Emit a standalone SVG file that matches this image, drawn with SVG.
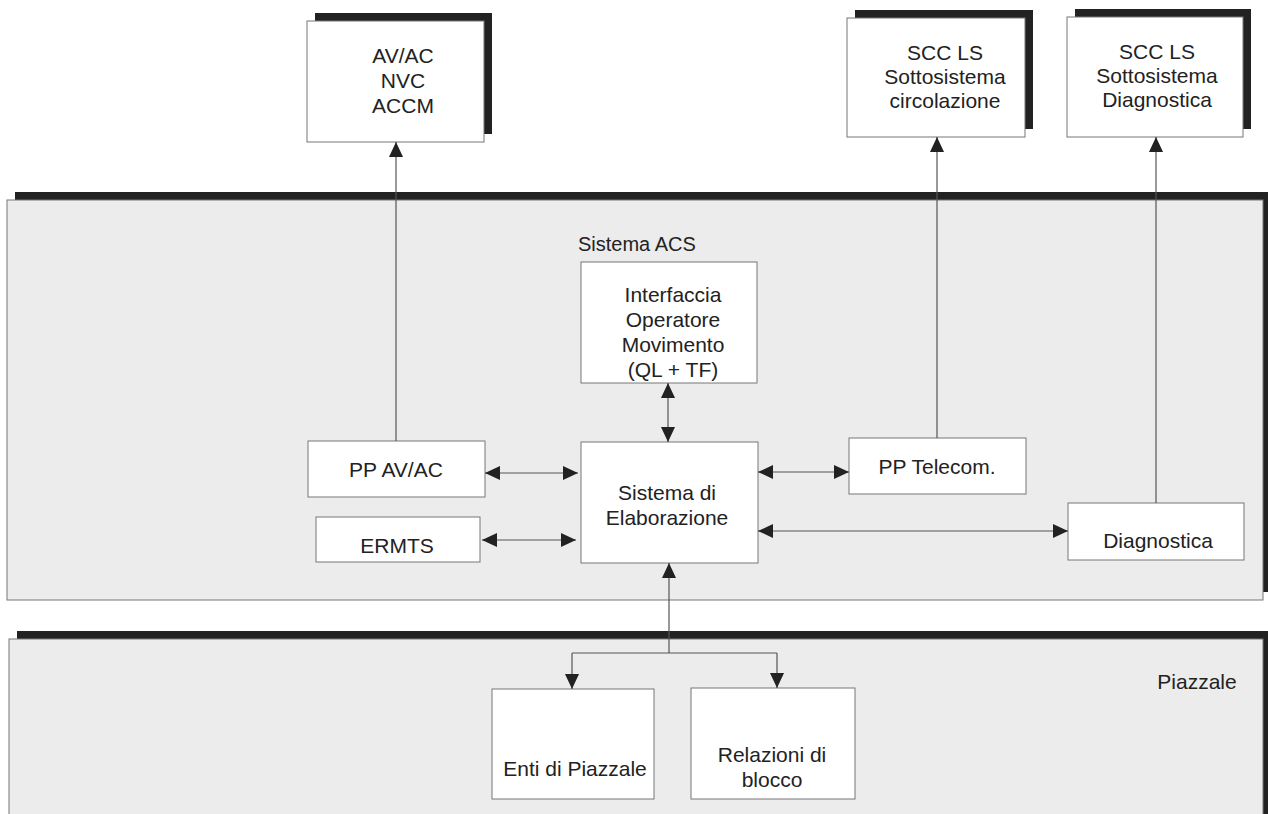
<svg xmlns="http://www.w3.org/2000/svg" width="1268" height="814" viewBox="0 0 1268 814">
<style>
text{font-family:"Liberation Sans",Arial,sans-serif;font-size:21px;fill:#222;text-anchor:middle}
.sh{fill:#222}
.panel{fill:#ececec;stroke:#777;stroke-width:1}
.box{fill:#fff;stroke:#777;stroke-width:1}
.c{fill:none;stroke:#555;stroke-width:1.2}
</style>
<defs>
<marker id="ah" markerUnits="userSpaceOnUse" markerWidth="15" markerHeight="14" refX="15" refY="7" orient="auto-start-reverse" viewBox="0 0 15 14">
<path d="M0,0 L15,7 L0,14 z" fill="#222"/>
</marker>
</defs>
<rect width="1268" height="814" fill="#fff"/>

<g id="panel-acs">
<rect class="sh" x="15" y="192" width="1260" height="400"/>
<rect class="panel" x="7" y="200" width="1256" height="400"/>
<text x="578" y="251" style="text-anchor:start;font-size:20px">Sistema ACS</text>
</g>
<g id="panel-piazzale">
<rect class="sh" x="17" y="631" width="1260" height="200"/>
<rect class="panel" x="9" y="639" width="1254" height="200"/>
<text x="1197" y="689">Piazzale</text>
</g>

<g id="node-avac-top">
<rect class="sh" x="315" y="13" width="177" height="121"/>
<rect class="box" x="307" y="21" width="177" height="121"/>
<text x="403" y="63">AV/AC</text>
<text x="403" y="88">NVC</text>
<text x="403" y="113">ACCM</text>
</g>
<g id="node-scc-circ">
<rect class="sh" x="855" y="10" width="178" height="119"/>
<rect class="box" x="847" y="18" width="178" height="119"/>
<text x="945" y="60">SCC LS</text>
<text x="945" y="84">Sottosistema</text>
<text x="945" y="108">circolazione</text>
</g>
<g id="node-scc-diag">
<rect class="sh" x="1075" y="9" width="176" height="120"/>
<rect class="box" x="1067" y="17" width="176" height="120"/>
<text x="1157" y="59">SCC LS</text>
<text x="1157" y="83">Sottosistema</text>
<text x="1157" y="107">Diagnostica</text>
</g>

<g id="node-interfaccia">
<rect class="box" x="581" y="262" width="176" height="121"/>
<text x="673" y="302">Interfaccia</text>
<text x="673" y="327">Operatore</text>
<text x="673" y="352">Movimento</text>
<text x="673" y="377">(QL + TF)</text>
</g>
<g id="node-sistema">
<rect class="box" x="581" y="442" width="177" height="121"/>
<text x="667" y="500">Sistema di</text>
<text x="667" y="525">Elaborazione</text>
</g>
<g id="node-ppavac">
<rect class="box" x="308" y="441" width="177" height="56"/>
<text x="396" y="477">PP AV/AC</text>
</g>
<g id="node-ermts">
<rect class="box" x="316" y="517" width="164" height="45"/>
<text x="397" y="553">ERMTS</text>
</g>
<g id="node-pptelecom">
<rect class="box" x="849" y="438" width="177" height="56"/>
<text x="937" y="474">PP Telecom.</text>
</g>
<g id="node-diagnostica">
<rect class="box" x="1068" y="503" width="176" height="57"/>
<text x="1158" y="548">Diagnostica</text>
</g>
<g id="node-enti">
<rect class="box" x="492" y="689" width="162" height="110"/>
<text x="575" y="776">Enti di Piazzale</text>
</g>
<g id="node-relazioni">
<rect class="box" x="691" y="688" width="164" height="111"/>
<text x="772" y="762">Relazioni di</text>
<text x="772" y="787">blocco</text>
</g>

<g id="connectors">
<path class="c" d="M396,441 V142" marker-end="url(#ah)"/>
<path class="c" d="M937,438 V137" marker-end="url(#ah)"/>
<path class="c" d="M1156,503 V137" marker-end="url(#ah)"/>
<path class="c" d="M668,383 V442" marker-start="url(#ah)" marker-end="url(#ah)"/>
<path class="c" d="M485,473 H578" marker-start="url(#ah)" marker-end="url(#ah)"/>
<path class="c" d="M482,540 H576" marker-start="url(#ah)" marker-end="url(#ah)"/>
<path class="c" d="M758,472 H849" marker-start="url(#ah)" marker-end="url(#ah)"/>
<path class="c" d="M758,531 H1068" marker-start="url(#ah)" marker-end="url(#ah)"/>
<path class="c" d="M669,653 V563" marker-end="url(#ah)"/>
<path class="c" d="M572,653 H777"/>
<path class="c" d="M572,653 V689" marker-end="url(#ah)"/>
<path class="c" d="M777,653 V688" marker-end="url(#ah)"/>
</g>
</svg>
